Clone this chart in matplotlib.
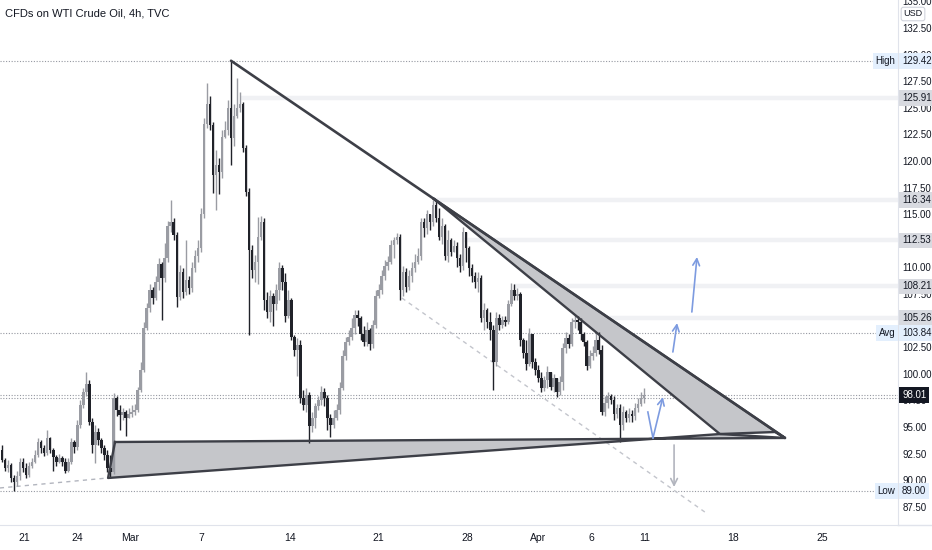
import numpy as np
import matplotlib
matplotlib.use('Agg')
from matplotlib import pyplot as plt
from matplotlib.lines import Line2D

plt.rcParams['font.family'] = ['Liberation Sans Narrow', 'Liberation Sans', 'DejaVu Sans']

# 4h candles, WTI CFD (TVC)
first_open = 92.8
closes = [91.9, 91.1, 91.4, 90.2, 89.8, 90.4, 91.7, 91.1, 90.5, 91.3,
          91.7, 92.4, 93.6, 93.0, 92.6, 94.0, 92.8, 92.2, 91.7, 92.1,
          91.7, 90.9, 91.7, 93.6, 93.1, 95.2, 97.1, 98.3, 99.0, 95.5,
          93.3, 94.5, 93.8, 93.0, 92.4, 91.1, 90.8, 97.7, 96.6, 96.1,
          96.4, 95.8, 96.2, 96.4, 96.6, 98.5, 100.4, 104.3, 106.2, 107.9,
          107.1, 108.6, 110.3, 109.0, 110.9, 113.9, 114.3, 113.0, 107.2, 109.6,
          107.7, 108.8, 108.1, 109.9, 111.1, 111.8, 115.0, 123.5, 125.4, 123.4,
          118.7, 119.6, 119.0, 122.3, 122.9, 125.0, 122.2, 124.2, 125.0, 125.4,
          121.2, 117.1, 111.6, 109.8, 110.5, 112.9, 114.3, 106.9, 105.8, 107.3,
          106.6, 107.9, 109.9, 108.6, 105.4, 106.9, 103.5, 102.2, 102.7, 97.7,
          97.1, 98.0, 95.1, 95.8, 97.0, 97.5, 98.3, 97.7, 95.8, 95.2,
          95.8, 96.6, 98.7, 101.7, 103.0, 103.5, 104.3, 105.5, 105.2, 103.7,
          103.0, 104.1, 102.8, 104.6, 107.3, 107.9, 109.2, 110.1, 110.5, 112.1,
          112.6, 112.9, 107.9, 109.6, 108.2, 109.2, 109.9, 110.5, 111.1, 114.3,
          113.7, 115.0, 114.3, 115.9, 114.6, 112.9, 113.9, 111.1, 112.6, 111.4,
          112.0, 110.9, 110.1, 113.3, 111.8, 109.9, 109.2, 108.6, 109.0, 105.2,
          106.0, 104.9, 104.1, 101.1, 105.2, 104.6, 105.1, 104.9, 106.6, 107.9,
          107.3, 107.5, 103.2, 102.0, 100.9, 103.7, 101.1, 100.4, 99.6, 98.7,
          99.4, 100.2, 98.8, 99.6, 98.3, 99.2, 102.4, 103.4, 102.8, 104.9,
          105.1, 104.9, 103.7, 103.0, 100.7, 101.7, 102.0, 103.2, 102.2, 96.4,
          97.3, 97.9, 97.5, 96.2, 96.8, 95.2, 96.4, 95.8, 96.2, 96.0,
          96.8, 97.2, 97.7, 98.01]
highs = [93.3, 92.1, 91.9, 91.6, 90.5, 90.9, 92.1, 92.1, 91.6, 91.7,
         92.1, 92.8, 94.0, 93.8, 93.3, 94.7, 94.1, 93.0, 92.4, 92.5,
         92.3, 92.1, 92.1, 94.0, 93.8, 95.7, 97.5, 98.7, 100.2, 99.4,
         95.8, 95.2, 94.9, 94.0, 93.3, 92.8, 92.4, 98.2, 97.9, 97.1,
         96.8, 96.6, 96.8, 97.1, 97.2, 98.8, 101.1, 104.9, 106.7, 108.4,
         108.2, 109.2, 110.9, 110.5, 112.3, 114.4, 116.3, 114.6, 113.3, 110.2,
         109.9, 112.6, 109.2, 110.5, 111.6, 112.6, 115.6, 124.0, 127.3, 126.1,
         123.7, 121.0, 120.3, 122.9, 123.8, 125.7, 129.42, 125.4, 127.8, 126.5,
         125.5, 121.5, 117.5, 112.1, 111.2, 114.7, 114.8, 114.6, 107.7, 107.9,
         107.6, 108.4, 110.5, 110.2, 109.5, 107.9, 107.1, 103.6, 103.4, 103.2,
         98.5, 98.7, 98.3, 96.4, 97.3, 97.9, 98.9, 98.7, 98.0, 96.2,
         96.6, 97.2, 99.2, 102.2, 103.5, 104.1, 105.2, 106.0, 106.0, 105.4,
         104.5, 104.9, 104.3, 105.1, 107.9, 108.4, 109.8, 110.7, 111.1, 112.6,
         112.9, 113.2, 113.1, 110.1, 109.9, 109.8, 110.5, 111.3, 111.8, 114.6,
         114.6, 115.4, 115.0, 116.34, 116.3, 115.6, 114.6, 114.1, 113.5, 112.8,
         112.6, 112.4, 111.3, 113.8, 113.3, 112.0, 110.3, 109.6, 109.6, 109.3,
         106.7, 106.2, 105.8, 104.6, 105.8, 105.6, 105.4, 105.4, 106.9, 108.5,
         108.4, 108.1, 107.7, 103.4, 103.2, 104.3, 103.7, 101.5, 100.8, 100.2,
         99.8, 100.7, 100.2, 100.0, 99.6, 99.8, 102.9, 103.9, 103.7, 105.2,
         105.5, 105.4, 105.2, 103.9, 103.2, 102.2, 102.6, 103.8, 103.9, 102.7,
         97.9, 98.3, 98.1, 97.9, 97.2, 97.2, 97.0, 96.6, 96.8, 96.6,
         97.3, 97.7, 98.3, 98.7]
lows = [91.7, 90.9, 90.8, 89.8, 89.0, 89.5, 90.0, 90.8, 90.2, 90.3,
        91.1, 91.6, 92.2, 92.6, 92.3, 92.4, 92.6, 90.9, 91.3, 91.6,
        91.3, 90.7, 90.8, 91.5, 92.6, 92.8, 94.9, 96.8, 97.9, 95.2,
        92.6, 91.6, 93.3, 92.6, 91.9, 90.8, 90.2, 90.6, 96.0, 94.7,
        95.7, 94.2, 95.8, 95.9, 96.1, 96.4, 98.3, 100.2, 104.1, 105.8,
        106.6, 106.9, 107.9, 105.1, 108.6, 110.5, 113.3, 112.6, 106.3, 106.9,
        107.1, 107.4, 107.5, 107.7, 109.6, 110.5, 111.4, 114.6, 123.1, 122.9,
        117.0, 115.4, 116.9, 118.4, 122.2, 122.4, 119.6, 121.4, 124.0, 124.6,
        120.8, 116.7, 103.6, 109.0, 108.6, 108.4, 112.6, 106.0, 105.2, 104.9,
        104.5, 106.0, 106.9, 107.9, 104.9, 105.2, 103.2, 101.7, 99.8, 97.3,
        96.6, 96.4, 93.5, 94.5, 94.9, 96.6, 97.1, 97.0, 94.7, 94.1,
        94.9, 95.7, 96.2, 98.5, 101.3, 102.7, 103.2, 103.7, 104.5, 103.2,
        102.6, 102.6, 102.2, 102.4, 104.3, 107.1, 107.5, 108.8, 109.8, 110.3,
        110.9, 112.2, 106.9, 107.3, 107.7, 107.9, 108.6, 109.6, 110.3, 110.7,
        112.9, 113.1, 113.5, 113.9, 114.3, 112.6, 112.2, 110.7, 110.5, 111.1,
        111.4, 110.0, 109.6, 109.8, 110.5, 109.2, 108.6, 108.1, 107.7, 104.9,
        104.1, 104.3, 103.2, 98.5, 100.7, 104.1, 104.3, 104.5, 104.7, 106.4,
        106.9, 106.9, 102.6, 101.5, 100.4, 100.7, 100.5, 99.9, 99.2, 98.3,
        98.4, 98.7, 98.5, 98.3, 97.8, 98.0, 98.5, 102.0, 102.4, 102.6,
        104.3, 104.1, 103.2, 102.6, 100.4, 100.5, 101.3, 101.7, 101.9, 96.1,
        96.0, 96.8, 97.2, 95.7, 95.8, 93.6, 94.7, 95.5, 95.5, 95.5,
        95.7, 96.4, 97.0, 97.3]

# date axis (trading days after Feb 21 -> labels)
tick_days = [0, 3, 6, 10, 15, 20, 25, 29, 32, 35, 40, 45]
tick_labels = ['21', '24', 'Mar', '7', '14', '21', '28', 'Apr', '6', '11', '18', '25']

# horizontal levels
levels_box = [125.91, 116.34, 112.53, 108.21, 105.26]
levels_start = [79, 143, 153, 170, 191]
high_level, avg_level, low_level, last_price = 129.42, 103.84, 89.00, 98.01

# drawings, (bar, price) anchors
top_line = [(76.0, 129.42), (259.8, 93.97)]
channel = [(143.3, 116.44), (259.8, 93.97), (256.5, 94.53), (238.2, 94.34)]
base_wedge = [(37.5, 93.59), (259.8, 93.97), (238.2, 94.34), (35.2, 90.21)]
dash_1 = [(-0.7, 89.27), (35.2, 90.21)]
dash_2 = [(132.7, 107.12), (233.2, 87.01)]
v_arrow = [(214.3, 96.41), (216.0, 93.97), (219.3, 97.82)]
up_arrow_1 = [(222.6, 102.05), (224.0, 104.77)]
up_arrow_2 = [(228.9, 105.81), (230.6, 110.98)]
down_arrow = [(223.0, 93.31), (223.0, 89.36)]

closes = np.array(closes)
opens = np.array([first_open] + list(closes[:-1]))
highs = np.maximum(np.array(highs), np.maximum(opens, closes))
lows = np.minimum(np.array(lows), np.minimum(opens, closes))
x = np.arange(len(closes))
up = closes >= opens

UP_C, DN_C = '#9a9ca3', '#202229'
LINE_C, FILL_C = '#3d3f47', '#c5c6ca'
BLUE = '#7d9be0'
TXT = '#131722'

fig = plt.figure(figsize=(9.32, 5.5), dpi=100)
ax = fig.add_axes([0, 25 / 550, 898 / 932, 525 / 550])
ax.set_xlim(-0.66, 297.3)
ax.set_ylim(85.79, 135.13)

# candles
for m, c in ((up, UP_C), (~up, DN_C)):
    ax.vlines(x[m], lows[m], highs[m], color=c, lw=1.0, zorder=3)
    ax.bar(x[m], np.maximum(np.abs(closes[m] - opens[m]), 0.1),
           bottom=np.minimum(opens[m], closes[m]), width=0.85, color=c, lw=0, zorder=3)

# level bands and dotted lines
for lv, st in zip(levels_box, levels_start):
    ax.plot([st, 297.3], [lv, lv], color='#f0f1f4', lw=3.2, zorder=1, solid_capstyle='butt')
for lv in (high_level, avg_level, low_level, last_price, 97.75):
    ax.axhline(lv, color='#9598a1', lw=0.8, ls=(0, (1, 1.5)), zorder=1)

# triangle drawings
ax.fill([p[0] for p in base_wedge], [p[1] for p in base_wedge], color=FILL_C, zorder=2, lw=0)
ax.fill([p[0] for p in channel], [p[1] for p in channel], color=FILL_C, zorder=2, lw=0)
ax.plot([p[0] for p in base_wedge] + [base_wedge[0][0]],
        [p[1] for p in base_wedge] + [base_wedge[0][1]], color=LINE_C, lw=1.7, zorder=4)
ax.plot([p[0] for p in channel] + [channel[0][0]],
        [p[1] for p in channel] + [channel[0][1]], color=LINE_C, lw=1.7, zorder=4)
ax.plot(*zip(*top_line), color=LINE_C, lw=1.9, zorder=4, solid_capstyle='round')

ax.plot(*zip(*dash_1), color='#b2b5be', lw=1, ls=(0, (3, 3)), zorder=2)
ax.plot(*zip(*dash_2), color='#c3c5cc', lw=1, ls=(0, (3, 3)), zorder=2)

# arrows
aprops = dict(arrowstyle='->', lw=1.2, mutation_scale=12, shrinkA=0, shrinkB=0)
ax.plot(*zip(*v_arrow[:2]), color=BLUE, lw=1.2, zorder=5)
ax.annotate('', xy=v_arrow[2], xytext=v_arrow[1], arrowprops=dict(color=BLUE, **aprops), zorder=5)
ax.annotate('', xy=up_arrow_1[1], xytext=up_arrow_1[0], arrowprops=dict(color=BLUE, **aprops), zorder=5)
ax.annotate('', xy=up_arrow_2[1], xytext=up_arrow_2[0], arrowprops=dict(color=BLUE, **aprops), zorder=5)
ax.annotate('', xy=down_arrow[1], xytext=down_arrow[0], arrowprops=dict(color='#b2b5be', **aprops), zorder=5)

# axes styling
for s in ('top', 'left'):
    ax.spines[s].set_visible(False)
ax.spines['right'].set_color('#e0e3eb')
ax.spines['bottom'].set_color('#e0e3eb')
ax.yaxis.tick_right()
ax.set_yticks(np.arange(87.5, 135.1, 2.5))
ax.yaxis.set_major_formatter(matplotlib.ticker.FormatStrFormatter('%.2f'))
ax.tick_params(axis='y', length=0, pad=3, labelsize=7, labelcolor=TXT)
ax.set_xticks([7.3 + d * 5.886 for d in tick_days], tick_labels)
ax.tick_params(axis='x', length=0, pad=6, labelsize=7.5, labelcolor=TXT)
fig.add_artist(Line2D([898 / 932, 1], [25 / 550, 25 / 550], color='#e0e3eb', lw=1))

# right-side price labels
def price_box(y, txt, fc, tc=TXT):
    ax.text(1.0045, y, txt, transform=ax.get_yaxis_transform(), ha='left', va='center',
            fontsize=7, color=tc, zorder=10, clip_on=False,
            bbox=dict(boxstyle='square,pad=0.3', fc=fc, ec='none'))

def side_tag(y, txt):
    ax.text(0.997, y, txt, transform=ax.get_yaxis_transform(), ha='right', va='center',
            fontsize=7, color=TXT, zorder=10, clip_on=False,
            bbox=dict(boxstyle='square,pad=0.3', fc='#e3effd', ec='none'))

for lv in levels_box:
    price_box(lv, f'{lv:.2f}', '#d8dae0')
price_box(high_level, f'{high_level:.2f}', '#e3effd')
price_box(avg_level, f'{avg_level:.2f}', '#e3effd')
price_box(low_level, f'{low_level:.2f}', '#e3effd')
price_box(last_price, f'{last_price:.2f}', '#131722', 'white')
side_tag(high_level, 'High')
side_tag(avg_level, 'Avg')
side_tag(low_level, 'Low')

fig.text(913 / 932, 1 - 14 / 550, 'USD', ha='center', va='center', fontsize=6.5, color=TXT,
         bbox=dict(boxstyle='round,pad=0.25', fc='white', ec='#d1d4dc', lw=0.8))
fig.text(5 / 932, 1 - 14 / 550, 'CFDs on WTI Crude Oil, 4h, TVC', ha='left', va='center',
         fontsize=8, color=TXT)

fig.savefig('out.png', dpi=100)
